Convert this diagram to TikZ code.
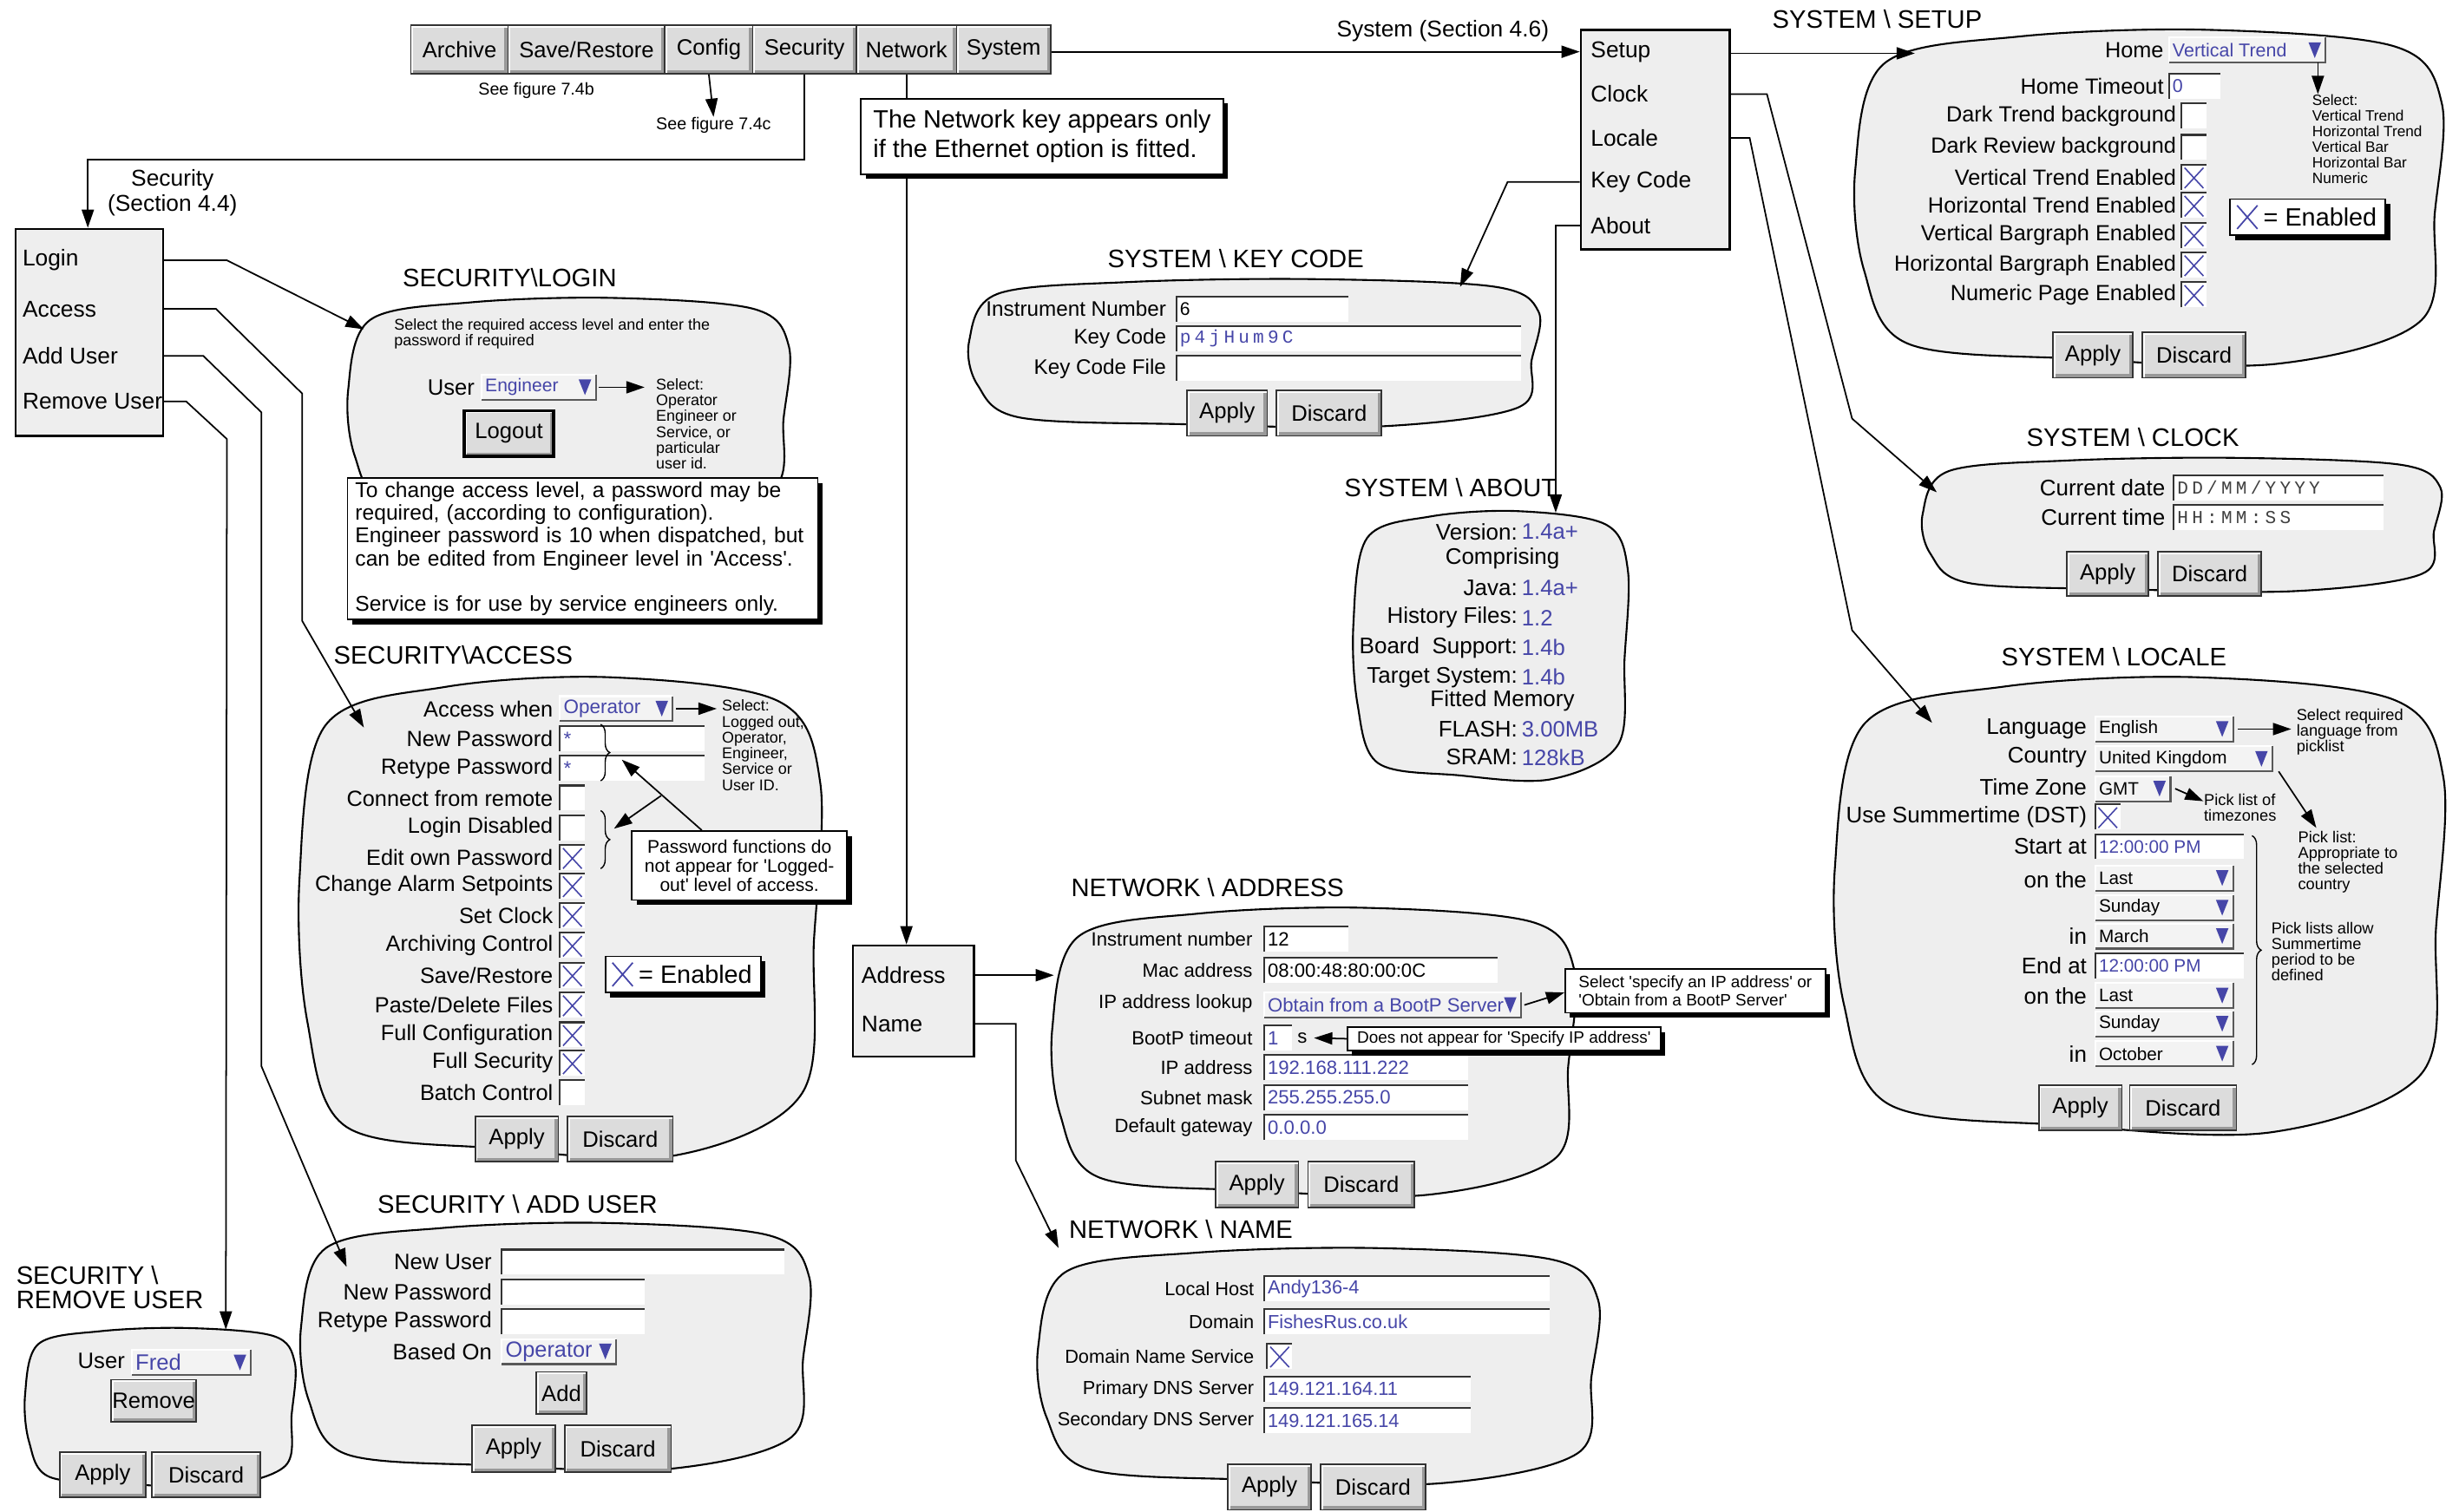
\documentclass[tikz,border=0pt]{standalone}
\usepackage{fontspec}
\setmainfont{Liberation Sans}
\newfontfamily\monof[LetterSpace=20]{Liberation Mono}
\usetikzlibrary{arrows.meta,shadows,decorations.pathreplacing}

\definecolor{panelgray}{HTML}{EEEEEE}
\definecolor{dropgray}{HTML}{F3F3F3}
\definecolor{btngray}{HTML}{DCDCDC}
\definecolor{valblue}{HTML}{4646A8}

% fonts for labels, values and small notes (changed inside each screen)
\newcommand{\lblfont}{\fontsize{7.5}{8.6}\selectfont}
\newcommand{\valfont}{\fontsize{6.2}{7}\selectfont}
\newcommand{\notefont}{\fontsize{5.1}{5.2}\selectfont}

\tikzset{
  lbl/.style={font=\lblfont, inner sep=0pt},
  val/.style={font=\valfont, text=valblue, inner sep=0pt},
  note/.style={font=\notefont, inner sep=0pt, align=left, anchor=north west},
  ttl/.style={font=\fontsize{8.3}{9.5}\selectfont, inner sep=0pt},
  panel/.style={draw, fill=panelgray, line width=0.6pt},
  menubox/.style={draw, fill=panelgray, line width=0.7pt, inner sep=0pt},
  button/.style={draw=black!80, fill=btngray, line width=0.5pt, inner sep=0pt,
    font=\fontsize{7.3}{8.5}\selectfont,
    path picture={
      \draw[black!40, line width=2.4pt] (path picture bounding box.south west)
        -- (path picture bounding box.south east) -- (path picture bounding box.north east);
      \draw[white, line width=1.6pt] (path picture bounding box.south west)
        -- (path picture bounding box.north west) -- (path picture bounding box.north east);}},
  callout/.style={draw, fill=white, line width=0.5pt, inner sep=0pt,
    drop shadow={shadow xshift=1.6pt, shadow yshift=-1.6pt, fill=black, opacity=1}},
  conn/.style={line width=0.5pt},
  arr/.style={conn, -{Triangle[length=6pt, width=4pt]}},
  brc/.style={decorate, decoration={brace, amplitude=3pt}, line width=0.4pt},
}

% wavy screen outline: name, x1, y1, x2, y2
\newcommand{\blob}[5]{%
  \pgfmathsetmacro\blW{#4-#2}\pgfmathsetmacro\blH{#5-#3}%
  \draw[panel] plot[smooth cycle, tension=0.55] coordinates {
    ({#2+0.05*\blW},{#3+0.10*\blH}) ({#2+0.28*\blW},{#3+0.02*\blH})
    ({#2+0.6*\blW},{#3}) ({#2+0.92*\blW},{#3+0.05*\blH})
    ({#4},{#3+0.22*\blH}) ({#4-0.012*\blW},{#3+0.55*\blH})
    ({#4-0.035*\blW},{#3+0.87*\blH}) ({#2+0.72*\blW},{#5})
    ({#2+0.38*\blW},{#5-0.015*\blH}) ({#2+0.09*\blW},{#5-0.06*\blH})
    ({#2+0.015*\blW},{#3+0.72*\blH}) ({#2},{#3+0.42*\blH})};
  \coordinate (#1) at ({(#2+#4)/2},{(#3+#5)/2});}
% key: [options], name, x1, y1, x2, y2, text
\newcommand{\btn}[7][]{%
  \pgfmathsetmacro\bnW{(#5-#3)*0.18074}\pgfmathsetmacro\bnH{(#6-#4)*0.18074}%
  \node[button, minimum width=\bnW mm, minimum height=\bnH mm, #1] (#2)
    at ({(#3+#5)/2},{(#4+#6)/2}) {#7};}
% entry field: [text options], name, x, y, width, text
\newcommand{\fld}[6][]{%
  \fill[white] (#3,#4-8) rectangle ++(#5,16);
  \draw[black!80, line width=0.6pt] (#3,#4+8) -- (#3,#4-8) -- ++(#5,0);
  \node[val, anchor=west, #1] (#2) at (#3+2,#4) {#6};
  \coordinate (#2e) at (#3+#5,#4);}
% pick list: [text options], name, x, y, width, text
\newcommand{\drp}[6][]{%
  \fill[dropgray] (#3,#4-8) rectangle ++(#5,16);
  \draw[white, line width=0.6pt] (#3,#4+8) -- (#3,#4-8) -- ++(#5,0);
  \draw[black!65, line width=0.6pt] (#3,#4+8) -- ++(#5,0) -- ++(0,-16);
  \fill[valblue] (#3+#5-11,#4-5) -- ++(8,0) -- ++(-4,10) -- cycle;
  \node[val, anchor=west, #1] (#2) at (#3+2,#4) {#6};
  \coordinate (#2e) at (#3+#5,#4);}
% tick box: name, x, y, ticked
\newcommand{\chk}[4]{%
  \fill[white] (#2,#3-8) rectangle ++(16,16);
  \draw[black!80, line width=0.6pt] (#2,#3+8) -- (#2,#3-8) -- ++(16,0);
  \ifnum#4=1 \draw[valblue, line width=0.45pt] (#2+2,#3-6) -- (#2+14,#3+7) (#2+14,#3-6) -- (#2+2,#3+7);\fi
  \coordinate (#1) at (#2+8,#3);}
% "X = Enabled" key: name, cx, cy
\newcommand{\enab}[3]{%
  \node[callout, minimum width=17.9mm, minimum height=4.16mm] (#1) at (#2,#3) {};
  \node[inner sep=0pt, font=\fontsize{8.2}{9}\selectfont, anchor=east] (#1t) at ([xshift=-1mm]#1.east) {= Enabled};
  \draw[valblue, line width=0.5pt] ([shift={(5,-7.5)}]#1.west) -- ++(13,15)
    ([shift={(18,-7.5)}]#1.west) -- ++(-13,15);}

\begin{document}
\begin{tikzpicture}[x=0.18074mm, y=-0.18074mm]
  \useasboundingbox (0,0) rectangle (1568,964);

  % --- Key row along the top ---
  \btn{kArchive}{262}{16}{324}{47}{Archive}
  \btn{kSave}{324}{16}{424}{47}{Save/Restore}
  \btn{kConfig}{424}{16}{480}{47}{Config}
  \btn{kSecurity}{480}{16}{546}{47}{Security}
  \btn{kNetwork}{546}{16}{610}{47}{Network}
  \btn{kSystem}{610}{16}{670}{47}{System}
  \node[lbl, font=\fontsize{5.6}{6}\selectfont] (fig4b) at (342,58) {See figure 7.4b};
  \node[lbl, font=\fontsize{5.6}{6}\selectfont] (fig4c) at (455,80) {See figure 7.4c};
  \node[lbl] (sysLbl) at (920,20) {System (Section 4.6)};
  \node[lbl, align=center, font=\fontsize{7.5}{8.3}\selectfont] (secLbl) at (110,123) {Security\\(Section 4.4)};
  \node[callout, minimum width=41.75mm, minimum height=8.68mm, align=left,
        font=\fontsize{8.2}{9.7}\selectfont] (netNote) at (664.5,87)
        {The Network key appears only\\if the Ethernet option is fitted.};

  % --- Menus ---
  \node[menubox, minimum width=16.99mm, minimum height=23.86mm] (mSec) at (57,212) {};
  \node[lbl, anchor=west] (mLogin)  at (14,166) {Login};
  \node[lbl, anchor=west] (mAccess) at (14,197) {Access};
  \node[lbl, anchor=west] (mAdd)    at (14,227) {Add User};
  \node[lbl, anchor=west] (mRemove) at (14,256) {Remove User};

  \node[menubox, minimum width=17.17mm, minimum height=25.3mm] (mSys) at (1055.5,89) {};
  \node[lbl, anchor=west] (mSetup)  at (1014,33) {Setup};
  \node[lbl, anchor=west] (mClock)  at (1014,60) {Clock};
  \node[lbl, anchor=west] (mLocale) at (1014,88) {Locale};
  \node[lbl, anchor=west] (mKey)    at (1014,116) {Key Code};
  \node[lbl, anchor=west] (mAbout)  at (1014,144) {About};

  \node[menubox, minimum width=13.92mm, minimum height=12.83mm] (mNet) at (582.5,638.5) {};
  \node[lbl, anchor=west] (mAddr) at (549,622) {Address};
  \node[lbl, anchor=west] (mName) at (549,653) {Name};

  % --- SYSTEM \ SETUP ---
  \begin{scope}
    \renewcommand{\lblfont}{\fontsize{7.2}{8.3}\selectfont}
    \renewcommand{\valfont}{\fontsize{6.1}{7}\selectfont}
    \node[ttl] (tSetup) at (1197,12) {SYSTEM \textbackslash\ SETUP};
    \blob{pSetup}{1183}{19}{1557}{232}
    \coordinate (toSetup) at (1221,34);
    \node[lbl, anchor=east] (lHome) at (1380,32) {Home};
    \drp{dHome}{1383}{32}{100}{Vertical Trend}
    \node[lbl, anchor=east] (lTimeout) at (1380,55) {Home Timeout};
    \fld{fTimeout}{1383}{55}{33}{0}
    \foreach \yy/\tx/\ck [count=\nn] in {74/Dark Trend background/0, 94/Dark Review background/0,
        113/Vertical Trend Enabled/1, 131/Horizontal Trend Enabled/1, 150/Vertical Bargraph Enabled/1,
        169/Horizontal Bargraph Enabled/1, 188/Numeric Page Enabled/1} {
      \node[lbl, anchor=east] (lSet\nn) at (1388,\yy) {\tx};
      \chk{cSet\nn}{1391}{\yy}{\ck}
    }
    \node[note, font=\fontsize{4.9}{5.1}\selectfont] (nHome) at (1474,60)
      {Select:\\Vertical Trend\\Horizontal Trend\\Vertical Bar\\Horizontal Bar\\Numeric};
    \draw[arr] ([shift={(-5,8)}]dHomee) -- (nHome.north west -| 1478,0);
    \enab{enSet}{1471.5}{138.5}
    \btn{bSetApply}{1309}{212}{1360}{241}{Apply}
    \btn{bSetDiscard}{1366}{212}{1432}{241}{Discard}
  \end{scope}

  % --- SYSTEM \ CLOCK ---
  \begin{scope}
    \renewcommand{\lblfont}{\fontsize{7.4}{8.5}\selectfont}
    \node[ttl] (tClock) at (1360,279) {SYSTEM \textbackslash\ CLOCK};
    \blob{pClock}{1226}{292}{1556}{377}
    \coordinate (toClock) at (1235,314);
    \node[lbl, anchor=east] (lDate) at (1381,311) {Current date};
    \fld[font=\monof\fontsize{6}{7}\selectfont, text=black!75]{fDate}{1386}{311}{134}{DD/MM/YYYY}
    \node[lbl, anchor=east] (lTime) at (1381,330) {Current time};
    \fld[font=\monof\fontsize{6}{7}\selectfont, text=black!75]{fTime}{1386}{330}{134}{HH:MM:SS}
    \btn{bClkApply}{1318}{352}{1370}{380}{Apply}
    \btn{bClkDiscard}{1376}{352}{1442}{380}{Discard}
  \end{scope}

  % --- SYSTEM \ LOCALE ---
  \begin{scope}
    \renewcommand{\lblfont}{\fontsize{7.4}{8.5}\selectfont}
    \renewcommand{\valfont}{\fontsize{5.9}{7}\selectfont}
    \renewcommand{\notefont}{\fontsize{5.2}{5.1}\selectfont}
    \node[ttl] (tLocale) at (1348,419) {SYSTEM \textbackslash\ LOCALE};
    \blob{pLocale}{1170}{432}{1558}{722}
    \coordinate (toLocale) at (1232,461);
    \node[lbl, anchor=east] (lLang) at (1331,465) {Language};
    \drp[text=black]{dLang}{1336}{465}{88}{English}
    \node[lbl, anchor=east] (lCountry) at (1331,483) {Country};
    \drp[text=black]{dCountry}{1336}{484}{113}{United Kingdom}
    \node[lbl, anchor=east] (lZone) at (1331,502) {Time Zone};
    \drp[text=black]{dZone}{1336}{503}{48}{GMT}
    \node[lbl, anchor=east] (lDst) at (1331,521) {Use Summertime (DST)};
    \chk{cDst}{1336}{521}{1}
    \node[lbl, anchor=east] (lStart) at (1331,540) {Start at};
    \fld{fStart}{1336}{540}{95}{12:00:00 PM}
    \node[lbl, anchor=east] (lOn1) at (1331,561) {on the};
    \drp[text=black]{dLast1}{1336}{560}{88}{Last}
    \drp[text=black]{dDay1}{1336}{579}{88}{Sunday}
    \node[lbl, anchor=east] (lIn1) at (1331,597) {in};
    \drp[text=black]{dMonth1}{1336}{597}{88}{March}
    \node[lbl, anchor=east] (lEnd) at (1331,616) {End at};
    \fld{fEnd}{1336}{616}{95}{12:00:00 PM}
    \node[lbl, anchor=east] (lOn2) at (1331,635) {on the};
    \drp[text=black]{dLast2}{1336}{635}{88}{Last}
    \drp[text=black]{dDay2}{1336}{653}{88}{Sunday}
    \node[lbl, anchor=east] (lIn2) at (1331,672) {in};
    \drp[text=black]{dMonth2}{1336}{672}{88}{October}
    \node[note] (nLang) at (1464,452) {Select required\\language from\\picklist};
    \draw[arr] ([shift={(3,0)}]dLange) -- ([shift={(-3,0)}]nLang.west |- dLange);
    \node[note] (nZone) at (1405,506) {Pick list of\\timezones};
    \draw[arr] ([shift={(3,0)}]dZonee) -- ([shift={(0,5)}]nZone.north west);
    \node[note] (nCountry) at (1465,530) {Pick list:\\Appropriate to\\the selected\\country};
    \draw[arr] ([shift={(4,8)}]dCountrye) -- ([shift={(12,-2)}]nCountry.north west);
    \draw[brc] (1436,533) -- (1436,679);
    \node[note] (nPeriod) at (1448,588) {Pick lists allow\\Summertime\\period to be\\defined};
    \btn{bLocApply}{1300}{692}{1353}{721}{Apply}
    \btn{bLocDiscard}{1358}{692}{1426}{721}{Discard}
  \end{scope}

  % --- SYSTEM \ KEY CODE ---
  \begin{scope}
    \renewcommand{\lblfont}{\fontsize{6.9}{8}\selectfont}
    \renewcommand{\valfont}{\fontsize{6}{7}\selectfont}
    \node[ttl] (tKey) at (788,165) {SYSTEM \textbackslash\ KEY CODE};
    \blob{pKey}{618}{178}{981}{272}
    \coordinate (toKey) at (931,183);
    \node[lbl, anchor=east] (lInst) at (744,197) {Instrument Number};
    \fld[text=black]{fInst}{750}{197}{110}{6}
    \node[lbl, anchor=east] (lKeyCode) at (744,216) {Key Code};
    \fld[font=\monof\fontsize{6}{7}\selectfont]{fKeyCode}{750}{216}{220}{p4jHum9C}
    \node[lbl, anchor=east] (lKeyFile) at (744,235) {Key Code File};
    \fld{fKeyFile}{750}{235}{220}{}
    \btn{bKeyApply}{757}{249}{808}{278}{Apply}
    \btn{bKeyDiscard}{814}{249}{881}{278}{Discard}
  \end{scope}

  % --- SYSTEM \ ABOUT ---
  \begin{scope}
    \renewcommand{\lblfont}{\fontsize{7.4}{8.5}\selectfont}
    \renewcommand{\valfont}{\fontsize{7.3}{8.5}\selectfont}
    \node[ttl] (tAbout) at (925,311) {SYSTEM \textbackslash\ ABOUT};
    \blob{pAbout}{863}{326}{1038}{497}
    \coordinate (toAbout) at (992,327);
    \foreach \yy/\tx/\vl [count=\nn] in {339/Version:/1.4a+, 375/Java:/1.4a+, 394/History Files:/1.2,
        413/Board\ \ Support:/1.4b, 432/Target System:/1.4b, 465/FLASH:/3.00MB, 483/SRAM:/128kB} {
      \node[lbl, anchor=east] (lAb\nn) at (968,\yy) {\tx};
      \node[val, anchor=west] (vAb\nn) at (970,\yy) {\vl};
    }
    \node[lbl] (lComp) at (958,356) {Comprising};
    \node[lbl] (lMem) at (958,447) {Fitted Memory};
  \end{scope}

  % --- SECURITY\LOGIN ---
  \begin{scope}
    \renewcommand{\lblfont}{\fontsize{7.3}{8.5}\selectfont}
    \renewcommand{\valfont}{\fontsize{6}{7}\selectfont}
    \node[ttl] (tLogin) at (325,177) {SECURITY\textbackslash LOGIN};
    \blob{pLogin}{222}{190}{503}{330}
    \coordinate (toLogin) at (232,210);
    \node[note] (nLoginTop) at (251,203) {Select the required access level and enter the\\password if required};
    \node[lbl, anchor=east] (lUser) at (303,247) {User};
    \drp{dUser}{307}{247}{73}{Engineer}
    \node[note] (nUser) at (418,241) {Select:\\Operator\\Engineer or\\Service, or\\particular\\user id.};
    \draw[arr] ([shift={(2,0)}]dUsere) -- ([shift={(-7,0)}]nUser.west |- dUsere);
    \btn[draw=black, line width=1pt]{bLogout}{296}{262}{353}{291}{Logout}
    \node[callout, text width=52.4mm, align=left, minimum width=54.2mm, minimum height=16.3mm,
          font=\fontsize{7.0}{7.5}\selectfont] (nLogin) at (371.5,350)
      {To change access level, a password may be\\required, (according to configuration).\\
       Engineer password is 10 when dispatched, but\\can be edited from Engineer level in \textquotesingle Access\textquotesingle.\\[7.5pt]
       Service is for use by service engineers only.};
  \end{scope}

  % --- SECURITY\ACCESS ---
  \begin{scope}
    \renewcommand{\lblfont}{\fontsize{7.2}{8.3}\selectfont}
    \renewcommand{\valfont}{\fontsize{6.4}{7}\selectfont}
    \node[ttl] (tAccess) at (289,418) {SECURITY\textbackslash ACCESS};
    \blob{pAccess}{191}{432}{523}{737}
    \coordinate (toAccess) at (232,464);
    \node[lbl, anchor=east] (lWhen) at (353,452) {Access when};
    \drp{dWhen}{357}{452}{72}{Operator}
    \node[note] (nWhen) at (460,446) {Select:\\Logged out,\\Operator,\\Engineer,\\Service or\\User ID.};
    \draw[arr] ([shift={(2,0)}]dWhene) -- ([shift={(-3,0)}]nWhen.west |- dWhene);
    \node[lbl, anchor=east] (lNewPw) at (353,471) {New Password};
    \fld{fNewPw}{357}{471}{92}{*}
    \node[lbl, anchor=east] (lRePw) at (353,490) {Retype Password};
    \fld{fRePw}{357}{490}{92}{*}
    \foreach \yy/\tx/\ck [count=\nn] in {509/Connect from remote/0, 528/Login Disabled/0,
        547/Edit own Password/1, 565/Change Alarm Setpoints/1, 584/Set Clock/1,
        603/Archiving Control/1, 622/{Save/Restore}/1, 641/{Paste/Delete Files}/1,
        660/Full Configuration/1, 678/Full Security/1, 697/Batch Control/0} {
      \node[lbl, anchor=east] (lAcc\nn) at (353,\yy) {\tx};
      \chk{cAcc\nn}{357}{\yy}{\ck}
    }
    \draw[brc] (383,462) -- (383,498);
    \draw[brc] (383,517) -- (383,554);
    \node[callout, minimum width=24.8mm, minimum height=7.95mm, align=center,
          font=\fontsize{6}{6.3}\selectfont] (nPw) at (471.5,552)
      {Password functions do\\not appear for \textquotesingle Logged-\\out\textquotesingle\ level of access.};
    \draw[arr] ([shift={(-24,0)}]nPw.north) -- ++(-51,-45);
    \draw[arr] ([shift={(-50,-22)}]nPw.north) -- ++(-30,21);
    \enab{enAcc}{435.5}{621.5}
    \btn{bAccApply}{303}{712}{356}{741}{Apply}
    \btn{bAccDiscard}{362}{712}{429}{741}{Discard}
  \end{scope}

  % --- SECURITY \ ADD USER ---
  \begin{scope}
    \renewcommand{\lblfont}{\fontsize{7.3}{8.5}\selectfont}
    \renewcommand{\valfont}{\fontsize{7.2}{8.3}\selectfont}
    \node[ttl] (tAdd) at (330,768) {SECURITY \textbackslash\ ADD USER};
    \blob{pAdd}{192}{780}{516}{937}
    \coordinate (toAdd) at (221,808);
    \node[lbl, anchor=east] (lNewUser) at (314,805) {New User};
    \fld{fNewUser}{320}{805}{180}{}
    \node[lbl, anchor=east] (lAddPw) at (314,824) {New Password};
    \fld{fAddPw}{320}{824}{91}{}
    \node[lbl, anchor=east] (lAddRePw) at (314,843) {Retype Password};
    \fld{fAddRePw}{320}{843}{91}{}
    \node[lbl, anchor=east] (lBased) at (314,862) {Based On};
    \drp{dBased}{320}{862}{73}{Operator}
    \btn{bAdd}{342}{875}{374}{902}{Add}
    \btn{bAddApply}{301}{909}{354}{939}{Apply}
    \btn{bAddDiscard}{360}{909}{428}{939}{Discard}
  \end{scope}

  % --- SECURITY \ REMOVE USER ---
  \begin{scope}
    \renewcommand{\lblfont}{\fontsize{7.3}{8.5}\selectfont}
    \renewcommand{\valfont}{\fontsize{7.3}{8.5}\selectfont}
    \node[ttl, align=left, anchor=north west, font=\fontsize{8.3}{7.9}\selectfont] (tRemove) at (10,807)
      {SECURITY \textbackslash\\REMOVE USER};
    \blob{pRemove}{16}{847}{188}{948}
    \coordinate (toRemove) at (144,848);
    \node[lbl, anchor=east] (lRemUser) at (80,868) {User};
    \drp{dFred}{84}{869}{76}{Fred}
    \btn{bRemove}{71}{880}{125}{907}{Remove}
    \btn{bRemApply}{38}{926}{93}{955}{Apply}
    \btn{bRemDiscard}{97}{926}{166}{955}{Discard}
  \end{scope}

  % --- NETWORK \ ADDRESS ---
  \begin{scope}
    \renewcommand{\lblfont}{\fontsize{6.3}{7.3}\selectfont}
    \renewcommand{\valfont}{\fontsize{6.3}{7.3}\selectfont}
    \node[ttl] (tNetAddr) at (770,566) {NETWORK \textbackslash\ ADDRESS};
    \blob{pNetAddr}{671}{579}{1004}{762}
    \coordinate (toNetAddr) at (672,622);
    \node[lbl, anchor=east] (lInstNo) at (799,599) {Instrument number};
    \fld[text=black]{fInstNo}{806}{599}{54}{12}
    \node[lbl, anchor=east] (lMac) at (799,619) {Mac address};
    \fld[text=black]{fMac}{806}{619}{149}{08:00:48:80:00:0C}
    \node[lbl, anchor=east] (lLookup) at (799,640) {IP address lookup};
    \drp{dLookup}{806}{641}{164}{Obtain from a BootP Server}
    \node[lbl, anchor=east] (lBootP) at (799,662) {BootP timeout};
    \fld{fBootP}{806}{662}{18}{1}
    \node[lbl, anchor=west] (lSecs) at (827,662) {s};
    \node[lbl, anchor=east] (lIp) at (799,681) {IP address};
    \fld{fIp}{806}{681}{130}{192.168.111.222}
    \node[lbl, anchor=east] (lMask) at (799,700) {Subnet mask};
    \fld{fMask}{806}{700}{130}{255.255.255.0}
    \node[lbl, anchor=east] (lGate) at (799,719) {Default gateway};
    \fld{fGate}{806}{719}{130}{0.0.0.0}
    \node[callout, minimum width=30mm, minimum height=5.06mm, align=left,
          font=\fontsize{5.4}{6}\selectfont] (nLookup) at (1081,632)
      {Select \textquotesingle specify an IP address\textquotesingle\ or\\\textquotesingle Obtain from a BootP Server\textquotesingle};
    \draw[arr] ([shift={(2,0)}]dLookupe) -- ([shift={(0,1)}]nLookup.west);
    \node[callout, minimum width=36.1mm, minimum height=2.7mm,
          font=\fontsize{5.4}{6}\selectfont] (nBootP) at (959,662.5)
      {Does not appear for \textquotesingle Specify IP address\textquotesingle};
    \draw[arr] (nBootP.west) -- ([shift={(4,0)}]lSecs.east);
    \btn{bNaApply}{775}{741}{828}{770}{Apply}
    \btn{bNaDiscard}{834}{741}{902}{770}{Discard}
  \end{scope}

  % --- NETWORK \ NAME ---
  \begin{scope}
    \renewcommand{\lblfont}{\fontsize{6.2}{7.2}\selectfont}
    \renewcommand{\valfont}{\fontsize{6.2}{7.2}\selectfont}
    \node[ttl] (tNetName) at (753,784) {NETWORK \textbackslash\ NAME};
    \blob{pNetName}{662}{796}{1019}{946}
    \coordinate (toNetName) at (675,796);
    \node[lbl, anchor=east] (lHost) at (800,822) {Local Host};
    \fld{fHost}{806}{822}{182}{Andy136-4}
    \node[lbl, anchor=east] (lDomain) at (800,843) {Domain};
    \fld{fDomain}{806}{843}{182}{FishesRus.co.uk}
    \node[lbl, anchor=east] (lDns) at (800,865) {Domain Name Service};
    \chk{cDns}{808}{865}{1}
    \node[lbl, anchor=east] (lDns1) at (800,886) {Primary DNS Server};
    \fld{fDns1}{806}{886}{132}{149.121.164.11}
    \node[lbl, anchor=east] (lDns2) at (800,906) {Secondary DNS Server};
    \fld{fDns2}{806}{906}{132}{149.121.165.14}
    \btn{bNnApply}{783}{934}{836}{963}{Apply}
    \btn{bNnDiscard}{842}{934}{909}{963}{Discard}
  \end{scope}

  % --- Connectors ---
  \draw[arr] (kConfig.south) -- (fig4c.north);
  \coordinate (secTurn) at (56,102);
  \draw[arr] (kSecurity.south) |- (secTurn) -- (secTurn |- mSec.north);
  \draw[conn] (kNetwork.south) -- (kNetwork.south |- netNote.north);
  \draw[arr] (kNetwork.south |- netNote.south) -- (kNetwork.south |- mNet.north);
  \draw[arr] (kSystem.east |- mSetup) -- (mSys.west |- mSetup);

  \draw[arr] (mSys.east |- toSetup) -- (toSetup);
  \draw[arr] (mSys.east |- mClock) -- ++(23,0) -- (1181,267) -- (toClock);
  \draw[arr] (mSys.east |- mLocale) -- ++(12,0) -- (1181,402) -- (toLocale);
  \draw[arr] (mSys.west |- mKey) -- ++(-46,0) -- (toKey);
  \draw[arr] (mSys.west |- mAbout) -- (toAbout |- mAbout) -- (toAbout);

  \draw[arr] (mSec.east |- mLogin) -- ++(40,0) -- (toLogin);
  \draw[arr] (mSec.east |- mAccess) -- ++(33,0) -- ++(55,54) -- ++(0,145) -- (toAccess);
  \draw[arr] (mSec.east |- mAdd) -- ++(25,0) -- ++(37,36) -- ++(0,417) -- (toAdd);
  \draw[arr] (mSec.east |- mRemove) -- ++(14,0) -- ++(26,24) -- (toRemove);

  \draw[arr] (mNet.east |- mAddr) -- (toNetAddr);
  \draw[arr] (mNet.east |- mName) -- ++(26,0) -- ++(0,87) -- (toNetName);
\end{tikzpicture}
\end{document}
